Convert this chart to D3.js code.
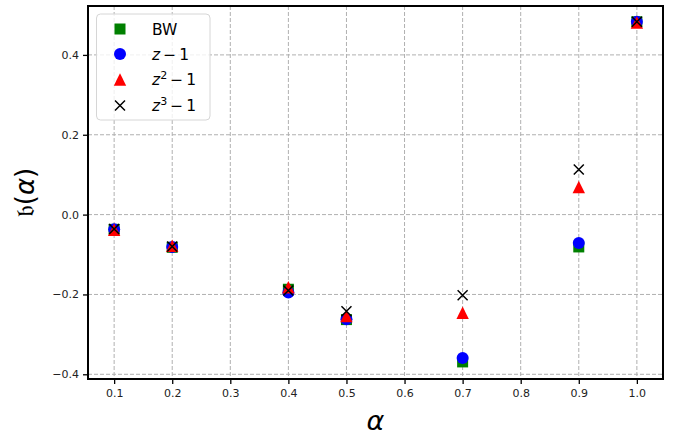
<!DOCTYPE html>
<html><head><meta charset="utf-8">
<script src="https://cdn.jsdelivr.net/npm/d3@7/dist/d3.min.js"></script>
<style>body{margin:0;background:#fff;} svg{display:block;}</style>
</head><body>
<svg id="c" width="673" height="435"></svg>
<script>
const alphas = [0.1, 0.2, 0.4, 0.5, 0.7, 0.9, 1.0];
const bw   = [-0.037, -0.082, -0.187, -0.263, -0.369, -0.081, 0.483];
const z1   = [-0.037, -0.081, -0.195, -0.262, -0.359, -0.071, 0.483];
const z2   = [-0.038, -0.078, -0.182, -0.254, -0.246, 0.069, 0.481];
const z3   = [-0.036, -0.080, -0.190, -0.242, -0.202, 0.113, 0.483];
const xTicks = [0.1,0.2,0.3,0.4,0.5,0.6,0.7,0.8,0.9,1.0];
const yTicks = [-0.4,-0.2,0.0,0.2,0.4];

const svg = d3.select('#c');
const L=88, R=663, T=6, B=379;
const x = d3.scaleLinear().domain([0.055,1.045]).range([L,R]);
const y = d3.scaleLinear().domain([-0.4118,0.5225]).range([B,T]);
const font = 'DejaVu Sans, sans-serif';

// grid
const g = svg.append('g');
g.selectAll('.gx').data(xTicks).enter().append('line')
  .attr('x1',d=>x(d)).attr('x2',d=>x(d)).attr('y1',T).attr('y2',B)
  .attr('stroke','#b0b0b0').attr('stroke-width',1).attr('stroke-dasharray','4,2');
g.selectAll('.gy').data(yTicks).enter().append('line')
  .attr('y1',d=>y(d)).attr('y2',d=>y(d)).attr('x1',L).attr('x2',R)
  .attr('stroke','#b0b0b0').attr('stroke-width',1).attr('stroke-dasharray','4,2');

// axes
const xa = svg.append('g').attr('transform',`translate(0,${B})`)
  .call(d3.axisBottom(x).tickValues(xTicks).tickFormat(d3.format('.1f')).tickSize(5).tickPadding(5));
const ya = svg.append('g').attr('transform',`translate(${L},0)`)
  .call(d3.axisLeft(y).tickValues(yTicks).tickFormat(d3.format('.1f')).tickSize(5).tickPadding(4));
[xa,ya].forEach(a=>{
  a.select('.domain').remove();
  a.selectAll('.tick line').attr('stroke','#000').attr('stroke-width',1.3);
  a.selectAll('.tick text').attr('font-family',font).attr('font-size',11).attr('fill','#222');
});
ya.selectAll('.tick text').text(d=>d3.format('.1f')(d).replace('-','\u2212'));

// markers
const S=11;
function sq(sel,cx,cy){sel.append('rect').attr('x',cx-S/2).attr('y',cy-S/2).attr('width',S).attr('height',S).attr('fill','green');}
function ci(sel,cx,cy){sel.append('circle').attr('cx',cx).attr('cy',cy).attr('r',6).attr('fill','blue');}
function tr(sel,cx,cy){const h=6.2;sel.append('path').attr('d',`M${cx},${cy-h}L${cx+h},${cy+h}L${cx-h},${cy+h}Z`).attr('fill','red');}
function xx(sel,cx,cy){const h=5;sel.append('path').attr('d',`M${cx-h},${cy-h}L${cx+h},${cy+h}M${cx-h},${cy+h}L${cx+h},${cy-h}`).attr('stroke','#000').attr('stroke-width',1.5).attr('fill','none');}

const series = [[bw,sq],[z1,ci],[z2,tr],[z3,xx]];
const mg = svg.append('g');
series.forEach(([vals,fn])=>{ vals.forEach((v,i)=>fn(mg, x(alphas[i]), y(v))); });

// spines
svg.append('rect').attr('x',L).attr('y',T).attr('width',R-L).attr('height',B-T)
  .attr('fill','none').attr('stroke','#000').attr('stroke-width',2);

// legend
const lg = svg.append('g');
lg.append('rect').attr('x',96.5).attr('y',14).attr('width',113.5).attr('height',106).attr('rx',4)
  .attr('fill','rgba(255,255,255,0.8)').attr('stroke','#d6d6d6').attr('stroke-width',1);
const rows=[29,54,79.5,105.5];
sq(lg,120,rows[0]); ci(lg,120,rows[1]); tr(lg,120,rows[2]); xx(lg,120,rows[3]);
const lt = (yy)=>lg.append('text').attr('x',152).attr('y',yy+5.5).attr('font-family',font).attr('font-size',15.5).attr('fill','#000');
lt(rows[0]).text('BW');
function zt(yy,p){
  const t=lt(yy);
  t.append('tspan').attr('font-style','italic').text('z');
  if(p){t.append('tspan').attr('font-size',11).attr('dy',-6).text(p);
        t.append('tspan').attr('dy',6).text('\u2009\u2212\u20091');}
  else t.append('tspan').text('\u2009\u2212\u20091');
}
zt(rows[1],null); zt(rows[2],'2'); zt(rows[3],'3');

// axis labels
svg.append('text').attr('x',(L+R)/2).attr('y',430).attr('text-anchor','middle')
  .attr('font-family',font).attr('font-style','italic').attr('font-size',27).text('\u03B1');
svg.append('text').attr('transform',`translate(34,${(T+B)/2}) rotate(-90)`).attr('text-anchor','middle')
  .attr('font-family',font).attr('font-size',26)
  .html('\uD835\uDD1F(<tspan font-style="italic">\u03B1</tspan>)');
</script>
</body></html>
